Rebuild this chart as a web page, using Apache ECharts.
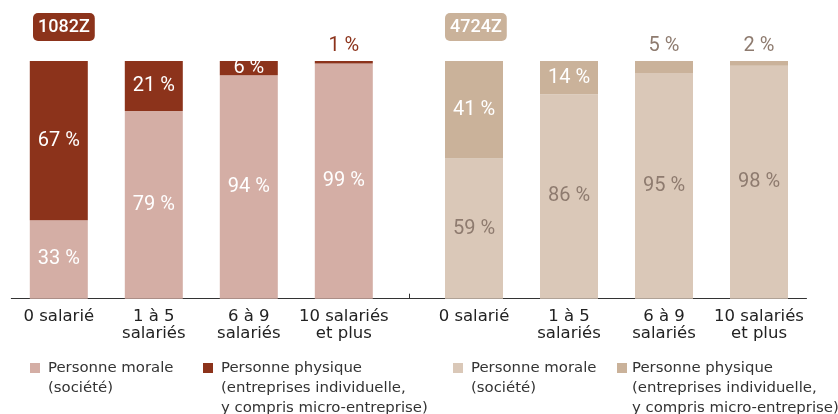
<!DOCTYPE html>
<html>
<head>
<meta charset="utf-8">
<script src="https://cdn.jsdelivr.net/npm/echarts@6/dist/echarts.min.js"></script>
<style>
  html, body { margin: 0; padding: 0; background: #fff; }
  #main { width: 838px; height: 414px; }
</style>
</head>
<body>
<div id="main"></div>
<script>
// data //
var categories = ['0 salarié', '1 à 5\nsalariés', '6 à 9\nsalariés', '10 salariés\net plus'];
var codes = ['1082Z', '4724Z'];
var morale1082 = [33, 79, 94, 99];
var physique1082 = [67, 21, 6, 1];
var morale4724 = [59, 86, 95, 98];
var physique4724 = [41, 14, 5, 2];
var legendNames = {
    m1: ['Personne morale', '(société)'],
    p1: ['Personne physique', '(entreprises individuelle,', 'y compris micro-entreprise)'],
    m2: ['Personne morale', '(société)'],
    p2: ['Personne physique', '(entreprises individuelle,', 'y compris micro-entreprise)']
};
// data end //

var darkRed = '#8c331b';
var lightRed = '#d4aea5';
var darkBeige = '#cab29a';
var lightBeige = '#dac8b8';
var greyText = '#8e7b6f';
var labelFont = 'Roboto, sans-serif';
var textFont = '"DejaVu Sans", sans-serif';

var barW = 58;
var legendLine = 20;

function topItems(values, outsideColor) {
    // small segments get their label above the bar
    return values.map(function (v) {
        if (v <= 5) {
            return {value: v, label: {position: 'top', color: outsideColor, distance: 5}};
        }
        return v;
    });
}

function xAxisFor(gridIndex, hideFirstTick) {
    return {
        type: 'category',
        gridIndex: gridIndex,
        data: categories,
        axisLine: {lineStyle: {color: '#333', width: 1}},
        axisTick: {
            inside: true,
            length: 5,
            lineStyle: {color: '#333'},
            interval: function (i) { return !(hideFirstTick && i === 0); }
        },
        axisLabel: {
            color: '#222',
            fontFamily: textFont,
            fontSize: 16.5,
            lineHeight: 17,
            margin: 10,
            interval: 0
        }
    };
}

function yAxisFor(gridIndex) {
    return {type: 'value', gridIndex: gridIndex, min: 0, max: 100, show: false};
}

function legendFor(name, left, iconTop, gap) {
    var lines = legendNames[name];
    // legend text is centred on the icon: pad with blank lines on top
    // so the first line sits level with the icon
    var pad = [];
    for (var i = 1; i < lines.length; i++) pad.push('');
    var total = pad.length + lines.length;
    return {
        data: [name],
        left: left,
        top: iconTop + 5 - total * legendLine / 2,
        padding: 0,
        itemWidth: 10,
        itemHeight: 10,
        icon: 'rect',
        selectedMode: false,
        formatter: function (n) { return pad.concat(legendNames[n]).join('\n'); },
        textStyle: {
            fontFamily: textFont,
            fontSize: 14.9,
            lineHeight: legendLine,
            color: '#333',
            padding: [0, 0, 0, gap]
        }
    };
}

function valueLabel(color) {
    return {show: true, position: 'inside', formatter: '{c} %', color: color,
            fontFamily: labelFont, fontSize: 20};
}

var myChart = echarts.init(document.getElementById('main'));

var option = {
    animation: false,
    title: [
        {
            text: codes[0], left: 33, top: 13, padding: [4, 5],
            backgroundColor: darkRed, borderRadius: 5,
            textStyle: {color: '#fff', fontFamily: labelFont, fontSize: 18, fontWeight: 500, lineHeight: 20}
        },
        {
            text: codes[1], left: 445, top: 13, padding: [4, 5],
            backgroundColor: darkBeige, borderRadius: 5,
            textStyle: {color: '#fff', fontFamily: labelFont, fontSize: 18, fontWeight: 500, lineHeight: 20}
        }
    ],
    grid: [
        {left: 11.3, width: 380, top: 61, bottom: 115.3},
        {left: 426.5, width: 380, top: 61, bottom: 115.3},
        {left: 391.3, width: 35.2, top: 61, bottom: 115.3}
    ],
    xAxis: [
        xAxisFor(0, false),
        xAxisFor(1, true),
        {
            type: 'category', gridIndex: 2, data: ['', '', ''], boundaryGap: false,
            axisLine: {lineStyle: {color: '#333', width: 1}},
            axisTick: {inside: true, length: 5, lineStyle: {color: '#333'},
                       interval: function (i) { return i === 1; }},
            axisLabel: {show: false}
        }
    ],
    yAxis: [yAxisFor(0), yAxisFor(1), yAxisFor(2)],
    legend: [
        legendFor('m1', 30, 363, 3),
        legendFor('p1', 203, 363, 3),
        legendFor('m2', 453, 363, 3),
        legendFor('p2', 617, 363, 0)
    ],
    series: [
        {
            name: 'm1', type: 'bar', stack: 'a', xAxisIndex: 0, yAxisIndex: 0,
            barWidth: barW, data: morale1082,
            itemStyle: {color: lightRed},
            label: valueLabel('#fff')
        },
        {
            name: 'p1', type: 'bar', stack: 'a', xAxisIndex: 0, yAxisIndex: 0,
            barWidth: barW, data: topItems(physique1082, darkRed),
            itemStyle: {color: darkRed},
            label: valueLabel('#fff')
        },
        {
            name: 'm2', type: 'bar', stack: 'b', xAxisIndex: 1, yAxisIndex: 1,
            barWidth: barW, data: morale4724,
            itemStyle: {color: lightBeige},
            label: valueLabel(greyText)
        },
        {
            name: 'p2', type: 'bar', stack: 'b', xAxisIndex: 1, yAxisIndex: 1,
            barWidth: barW, data: topItems(physique4724, greyText),
            itemStyle: {color: darkBeige},
            label: valueLabel('#fff')
        }
    ]
};

myChart.setOption(option);
</script>
</body>
</html>
